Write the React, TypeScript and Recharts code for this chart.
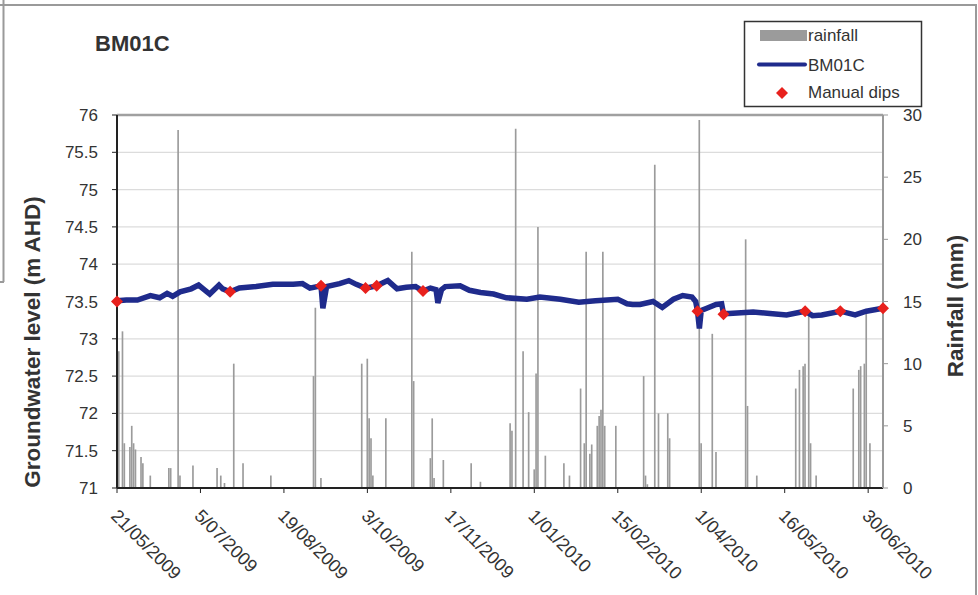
import React from 'react';
import { ComposedChart, Bar, Line, Scatter, XAxis, YAxis, CartesianGrid, ReferenceLine } from 'recharts';

const FONT = '"Liberation Sans", Arial, Helvetica, sans-serif';

// x axis: days since 21/05/2009
const tickDays = [0, 45, 90, 135, 180, 225, 270, 315, 360, 405];
const tickLabels = ['21/05/2009', '5/07/2009', '19/08/2009', '3/10/2009', '17/11/2009', '1/01/2010', '15/02/2010', '1/04/2010', '16/05/2010', '30/06/2010'];
const levelTicks = [71, 71.5, 72, 72.5, 73, 73.5, 74, 74.5, 75, 75.5, 76];
const rainTicks = [0, 5, 10, 15, 20, 25, 30];

// daily rainfall (mm)
const rainDays = [1, 3, 4, 7, 8, 9, 10, 13, 14, 18, 28, 29, 33, 34, 41, 54, 56, 58, 63, 68, 83, 106, 107, 110, 132, 135, 136, 137, 138, 145, 159, 160, 169, 170, 171, 176, 191, 196, 212, 213, 215, 219, 222, 225, 226, 227, 231, 241, 244, 250, 252, 253, 255, 256, 259, 260, 261, 262, 263, 269, 284, 285, 286, 290, 292, 297, 298, 314, 315, 321, 323, 339, 340, 345, 366, 368, 370, 371, 373, 374, 377, 397, 400, 401, 403, 404, 406];
const rainMm = [11.0, 12.6, 3.6, 3.3, 5.0, 3.6, 3.1, 2.5, 2.0, 1.0, 1.6, 1.6, 28.8, 1.0, 1.8, 1.6, 1.0, 0.4, 10.0, 2.0, 1.0, 9.0, 14.5, 0.8, 10.0, 10.4, 5.6, 4.0, 1.0, 5.6, 19.0, 8.6, 2.4, 5.6, 0.8, 2.25, 2.0, 0.5, 5.2, 4.6, 28.9, 11.0, 6.1, 1.5, 9.2, 21.0, 2.6, 2.0, 1.0, 8.0, 3.6, 19.0, 2.75, 3.5, 5.0, 5.8, 6.3, 19.0, 5.0, 5.0, 9.0, 1.0, 0.3, 26.0, 6.0, 6.0, 4.0, 29.6, 3.6, 12.4, 2.9, 20.0, 6.6, 1.0, 8.0, 9.5, 9.8, 10.0, 14.0, 3.6, 1.0, 8.0, 9.5, 9.8, 10.0, 14.0, 3.6];

// logger groundwater level BM01C (m AHD)
const levelDays = [0, 5, 11, 18, 23, 27, 30, 34, 40, 44, 47, 50, 55, 57, 61, 66, 75, 84, 95, 100, 104, 110, 111, 113, 120, 125, 129, 134, 140, 146, 151, 156, 161, 165, 169, 172, 173, 175, 177, 185, 190, 196, 203, 210, 221, 228, 239, 249, 258, 270, 275, 278, 282, 289, 294, 300, 305, 310, 312, 313, 314, 315, 318, 323, 326, 327, 330, 343, 352, 361, 371, 375, 380, 390, 398, 404, 413];
const levelValues = [73.51, 73.52, 73.52, 73.58, 73.55, 73.61, 73.57, 73.63, 73.67, 73.72, 73.66, 73.6, 73.72, 73.67, 73.63, 73.68, 73.7, 73.73, 73.73, 73.74, 73.68, 73.71, 73.41, 73.7, 73.74, 73.78, 73.73, 73.68, 73.71, 73.78, 73.67, 73.69, 73.7, 73.64, 73.68, 73.66, 73.48, 73.66, 73.7, 73.71, 73.65, 73.62, 73.6, 73.55, 73.53, 73.56, 73.53, 73.49, 73.51, 73.53, 73.47, 73.46, 73.46, 73.5, 73.42, 73.53, 73.58, 73.56, 73.5, 73.37, 73.14, 73.38, 73.41, 73.46, 73.47, 73.34, 73.34, 73.36, 73.34, 73.32, 73.37, 73.31, 73.32, 73.37, 73.32, 73.37, 73.41];

// manual dips (m AHD)
const dipDays = [0, 61, 110, 134, 140, 165, 313, 327, 371, 390, 413];
const dipValues = [73.5, 73.63, 73.71, 73.68, 73.71, 73.64, 73.37, 73.33, 73.37, 73.37, 73.41];

const rainData = rainDays.map((d, i) => ({ day: d, rain: rainMm[i] }));
const levelData = levelDays.map((d, i) => ({ day: d, level: levelValues[i] }));
const dipData = dipDays.map((d, i) => ({ day: d, dip: dipValues[i] }));

const LINE_COLOR = '#1f2b8c';
const DIP_COLOR = '#e8211d';
const BAR_COLOR = '#9b9b9b';
const TEXT = '#333333';

const DateTick = (props: any) => {
  const { x, y, payload } = props;
  const i = tickDays.indexOf(payload.value);
  const px = x - 7;
  const py = y + 22;
  return (
    <text x={px} y={py} transform={`rotate(45 ${px} ${py})`} fontSize={18} fill={TEXT} fontFamily={FONT} textAnchor="start">
      {i >= 0 ? tickLabels[i] : ''}
    </text>
  );
};

const Diamond = (props: any) => {
  const { cx, cy } = props;
  const r = 6;
  return <polygon points={`${cx},${cy - r} ${cx + r},${cy} ${cx},${cy + r} ${cx - r},${cy}`} fill={DIP_COLOR} />;
};

export default function App() {
  return (
    <div style={{ position: 'absolute', left: 0, top: 0, width: 978, height: 595, background: '#fff', fontFamily: FONT }}>
      <div style={{ position: 'absolute', left: 0, top: 0 }}>
        <ComposedChart width={978} height={595} data={rainData} margin={{ top: 115, right: 35, bottom: 47, left: 57 }}>
          <CartesianGrid vertical={false} stroke="#dcdcdc" strokeWidth={1.2} />
          <XAxis
            dataKey="day"
            type="number"
            domain={[0, 413]}
            ticks={tickDays}
            interval={0}
            tick={<DateTick />}
            tickSize={5}
            height={60}
            axisLine={{ stroke: '#222', strokeWidth: 2 }}
            tickLine={{ stroke: '#222' }}
          />
          <YAxis
            type="number"
            domain={[71, 76]}
            ticks={levelTicks}
            interval={0}
            width={60}
            tickSize={5}
            tickMargin={14}
            tick={{ fontSize: 17, fill: TEXT, fontFamily: FONT }}
            axisLine={{ stroke: '#222', strokeWidth: 2 }}
            tickLine={{ stroke: '#222' }}
            tickFormatter={(v: number) => String(v)}
          />
          <YAxis
            yAxisId="rain"
            orientation="right"
            type="number"
            domain={[0, 30]}
            ticks={rainTicks}
            interval={0}
            width={60}
            tickSize={5}
            tickMargin={15}
            tick={{ fontSize: 17, fill: TEXT, fontFamily: FONT }}
            axisLine={{ stroke: '#999', strokeWidth: 2 }}
            tickLine={{ stroke: '#999' }}
          />
          <ReferenceLine y={76} stroke="#a0a0a0" strokeWidth={2.5} />
          <Bar yAxisId="rain" dataKey="rain" fill={BAR_COLOR} barSize={2} isAnimationActive={false} />
          <Line data={levelData} dataKey="level" type="linear" stroke={LINE_COLOR} strokeWidth={5.5} dot={false} isAnimationActive={false} />
          <Scatter data={dipData} dataKey="dip" shape={<Diamond />} isAnimationActive={false} />
        </ComposedChart>
      </div>
      <svg width={978} height={595} style={{ position: 'absolute', left: 0, top: 0, pointerEvents: 'none' }}>
        {/* frame */}
        <line x1={0} y1={5} x2={977} y2={5} stroke="#9a9a9a" strokeWidth={2} />
        <line x1={976} y1={5} x2={976} y2={595} stroke="#9a9a9a" strokeWidth={2} />
        <line x1={3.5} y1={0} x2={3.5} y2={282} stroke="#9a9a9a" strokeWidth={2} />
        <line x1={0} y1={282} x2={4} y2={282} stroke="#9a9a9a" strokeWidth={2} />
        {/* title */}
        <text x={95} y={51} fontSize={22} fontWeight="bold" fill={TEXT} fontFamily={FONT}>BM01C</text>
        {/* axis titles */}
        <text x={0} y={0} transform="translate(40 342) rotate(-90)" textAnchor="middle" fontSize={22.5} fontWeight="bold" fill={TEXT} fontFamily={FONT}>Groundwater level (m AHD)</text>
        <text x={0} y={0} transform="translate(963 306) rotate(-90)" textAnchor="middle" fontSize={22.5} fontWeight="bold" fill={TEXT} fontFamily={FONT}>Rainfall (mm)</text>
        {/* legend */}
        <rect x={744.5} y={21.5} width={177} height={85} fill="#fff" stroke="#333" strokeWidth={1.5} />
        <rect x={760} y={30} width={47} height={11} fill={BAR_COLOR} />
        <text x={808} y={41} fontSize={17} fill={TEXT} fontFamily={FONT}>rainfall</text>
        <line x1={759} y1={64.5} x2={805} y2={64.5} stroke={LINE_COLOR} strokeWidth={4} strokeLinecap="round" />
        <text x={808} y={71} fontSize={17} fill={TEXT} fontFamily={FONT}>BM01C</text>
        <polygon points="782,87 788,93 782,99 776,93" fill={DIP_COLOR} />
        <text x={808} y={98} fontSize={17} fill={TEXT} fontFamily={FONT}>Manual dips</text>
      </svg>
    </div>
  );
}
